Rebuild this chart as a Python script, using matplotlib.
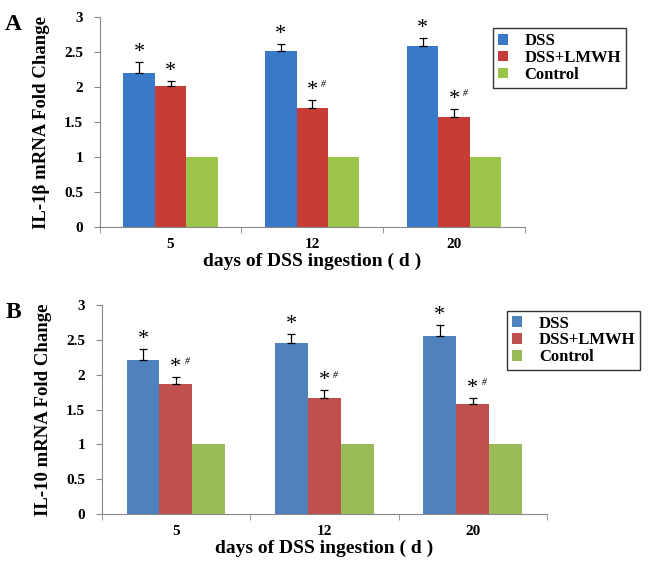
import numpy as np
import matplotlib.pyplot as plt

days = ["5", "12", "20"]
series = ["DSS", "DSS+LMWH", "Control"]

# panel A: IL-1beta
il1b_dss = [2.20, 2.52, 2.59]
il1b_dss_err = [0.16, 0.10, 0.11]
il1b_lmwh = [2.01, 1.70, 1.57]
il1b_lmwh_err = [0.08, 0.12, 0.12]
il1b_ctrl = [1.0, 1.0, 1.0]
il1b_marks_dss = ["*", "*", "*"]
il1b_marks_lmwh = ["*", "*#", "*#"]

# panel B: IL-10
il10_dss = [2.21, 2.45, 2.56]
il10_dss_err = [0.16, 0.13, 0.15]
il10_lmwh = [1.87, 1.67, 1.58]
il10_lmwh_err = [0.10, 0.11, 0.09]
il10_ctrl = [1.0, 1.0, 1.0]
il10_marks_dss = ["*", "*", "*"]
il10_marks_lmwh = ["*#", "*#", "*#"]

plt.rcParams['font.family'] = ['Liberation Serif', 'DejaVu Serif']
plt.rcParams['font.weight'] = 'bold'

fig = plt.figure(figsize=(6.52, 5.65), dpi=100)


def panel(rect, letter, ylabel, dss, dss_err, lmwh, lmwh_err, ctrl,
          marks_dss, marks_lmwh, colors, legend_box):
    ax = fig.add_axes(rect)
    x = np.arange(len(days))
    w = 0.222
    vals = [dss, lmwh, ctrl]
    errs = [dss_err, lmwh_err, None]
    marks = [marks_dss, marks_lmwh, None]
    handles = []
    for i in range(3):
        xi = x + (i - 1) * w
        b = ax.bar(xi, vals[i], w, color=colors[i], label=series[i], zorder=2)
        handles.append(b)
        if errs[i] is not None:
            ax.errorbar(xi, vals[i], yerr=[np.zeros(3), errs[i]], fmt='none',
                        ecolor='black', elinewidth=0.9, capsize=3, capthick=0.9, zorder=3)
            for xx, v, e, m in zip(xi, vals[i], errs[i], marks[i]):
                ax.text(xx, v + e + 0.0, "*", ha='center', va='bottom',
                        fontsize=16, fontweight='normal')
                if "#" in m:
                    ax.text(xx + 0.06, v + e + 0.15, "#", ha='left', va='bottom',
                            fontsize=7, style='italic', fontweight='normal')
    ax.set_xlim(-0.5, 2.5)
    ax.set_ylim(0, 3)
    ax.set_yticks([0, 0.5, 1, 1.5, 2, 2.5, 3])
    ax.set_yticklabels(["0", "0.5", "1", "1.5", "2", "2.5", "3"])
    ax.set_xticks(x)
    ax.set_xticklabels(days)
    ax.set_xticks([-0.5, 0.5, 1.5, 2.5], minor=True)
    ax.tick_params(axis='x', which='major', length=0, labelsize=11, pad=8)
    ax.tick_params(axis='x', which='minor', length=4, color='#888888')
    ax.tick_params(axis='y', length=4, color='#888888', labelsize=11, pad=8)
    for s in ['top', 'right']:
        ax.spines[s].set_visible(False)
    for s in ['left', 'bottom']:
        ax.spines[s].set_color('#888888')
    ax.set_ylabel(ylabel, fontsize=13.5, fontweight='bold', labelpad=10)
    ax.set_xlabel("days of DSS ingestion ( d )", fontsize=14, fontweight='bold', labelpad=1)
    leg = fig.legend(handles=handles, loc='upper left', bbox_to_anchor=legend_box,
                     frameon=True, fancybox=False, edgecolor='black',
                     handlelength=0.6, handleheight=0.6, handletextpad=1.0,
                     labelspacing=0.05, borderpad=0.3, prop={'weight': 'bold', 'size': 12})
    leg.get_frame().set_linewidth(1.0)
    fig.text(0.008, rect[1] + rect[3] + 0.005, letter, fontsize=17, fontweight='bold', va='top')
    return ax


panel([0.153, 0.598, 0.652, 0.372], "A", "IL-1β mRNA Fold Change",
      il1b_dss, il1b_dss_err, il1b_lmwh, il1b_lmwh_err, il1b_ctrl,
      il1b_marks_dss, il1b_marks_lmwh,
      ['#3a78c8', '#c83c38', '#9cc44a'], (0.743, 0.965))

panel([0.156, 0.090, 0.683, 0.370], "B", "IL-10 mRNA Fold Change",
      il10_dss, il10_dss_err, il10_lmwh, il10_lmwh_err, il10_ctrl,
      il10_marks_dss, il10_marks_lmwh,
      ['#4f81bd', '#c0504d', '#9bbb59'], (0.765, 0.465))

fig.savefig("out.png", dpi=100)
